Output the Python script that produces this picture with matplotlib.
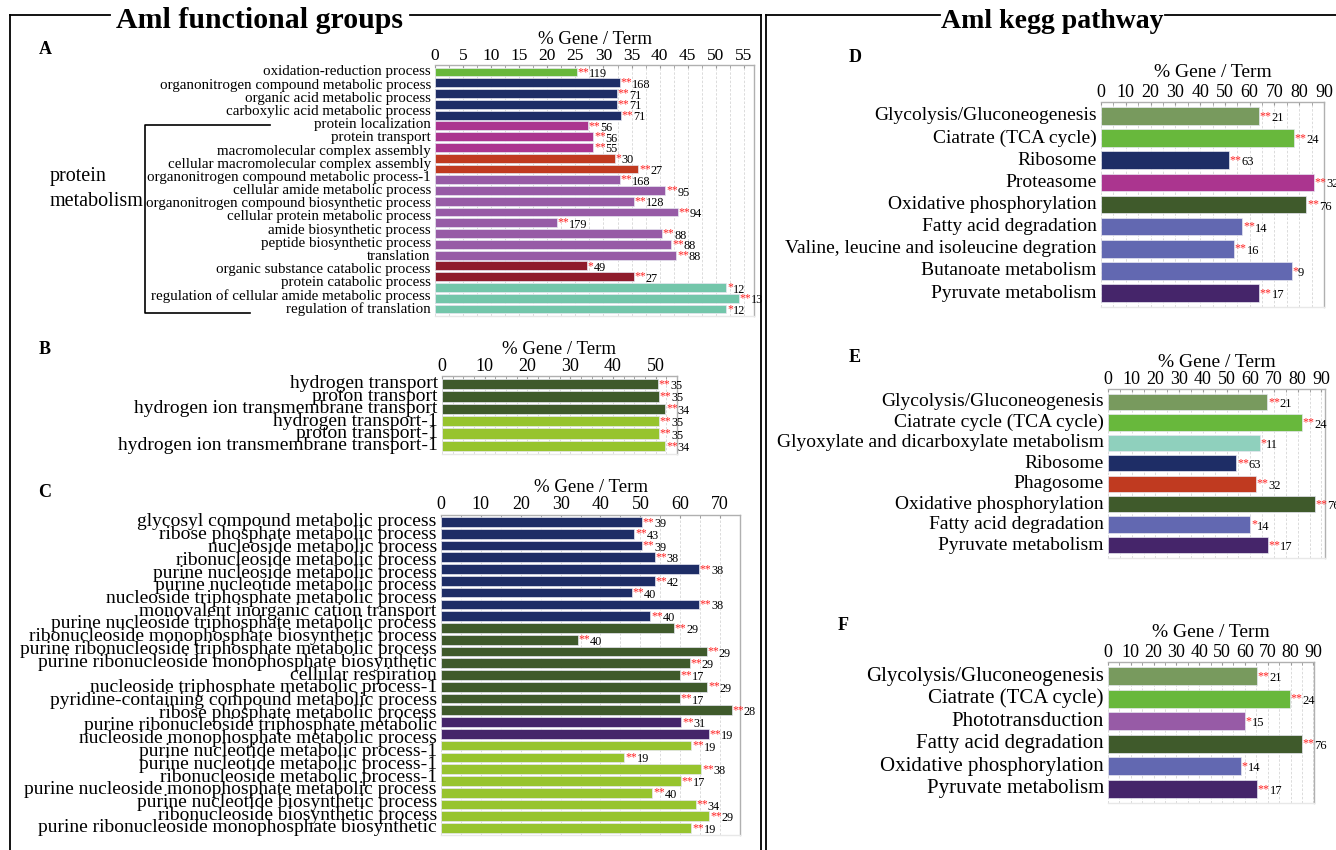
import matplotlib
matplotlib.use('Agg')
import matplotlib.pyplot as plt
from matplotlib.lines import Line2D
from matplotlib.ticker import MultipleLocator
import numpy as np

plt.rcParams['font.family'] = ['Liberation Serif', 'DejaVu Serif']

W, H = 1336, 850

# ---------------- data ----------------
# Panel A
a_labels = ["oxidation-reduction process", "organonitrogen compound metabolic process",
            "organic acid metabolic process", "carboxylic acid metabolic process",
            "protein localization", "protein transport", "macromolecular complex assembly",
            "cellular macromolecular complex assembly", "organonitrogen compound metabolic process-1",
            "cellular amide metabolic process", "organonitrogen compound biosynthetic process",
            "cellular protein metabolic process", "amide biosynthetic process",
            "peptide biosynthetic process", "translation", "organic substance catabolic process",
            "protein catabolic process", "regulation of cellular amide metabolic process",
            "regulation of translation"]
a_values = [25.3, 32.9, 32.4, 32.4, 33.1, 27.2, 28.2, 28.2, 32.0, 36.2, 32.9, 41.0, 35.4,
            43.2, 21.7, 40.4, 42.1, 43.0, 27.1, 35.4, 51.9, 54.1, 51.9]
a_counts = [119, 168, 71, 71, 71, 56, 56, 55, 30, 27, 168, 95, 128, 94, 179, 88, 88, 88,
            49, 27, 12, 13, 12]
a_stars = ['**', '**', '**', '**', '**', '**', '**', '**', '*', '**', '**', '**', '**', '**',
           '**', '**', '**', '**', '*', '**', '*', '**', '*']
a_groups = [1, 4, 3, 2, 8, 2, 3]

# Panel B
b_labels = ["hydrogen transport", "proton transport", "hydrogen ion transmembrane transport",
            "hydrogen transport-1", "proton transport-1", "hydrogen ion transmembrane transport-1"]
b_values = [50.6, 50.8, 52.3, 50.8, 50.8, 52.3]
b_counts = [35, 35, 34, 35, 35, 34]
b_stars = ['**'] * 6
b_groups = [3, 3]

# Panel C
c_labels = ["glycosyl compound metabolic process", "ribose phosphate metabolic process",
            "nucleoside metabolic process", "ribonucleoside metabolic process",
            "purine nucleoside metabolic process", "purine nucleotide metabolic process",
            "nucleoside triphosphate metabolic process", "monovalent inorganic cation transport",
            "purine nucleoside triphosphate metabolic process",
            "ribonucleoside monophosphate biosynthetic process",
            "purine ribonucleoside triphosphate metabolic process",
            "purine ribonucleoside monophosphate biosynthetic", "cellular respiration",
            "nucleoside triphosphate metabolic process-1",
            "pyridine-containing compound metabolic process", "ribose phosphate metabolic process",
            "purine ribonucleoside triphosphate metabolic",
            "nucleoside monophosphate metabolic process", "purine nucleotide metabolic process-1",
            "purine nucleotide metabolic process-1", "ribonucleoside metabolic process-1",
            "purine nucleoside monophosphate metabolic process",
            "purine nucleotide biosynthetic process", "ribonucleoside biosynthetic process",
            "purine ribonucleoside monophosphate biosynthetic"]
c_values = [50.4, 48.5, 50.4, 53.6, 64.7, 53.7, 47.9, 64.7, 52.5,
            58.4, 34.3, 66.6, 62.4, 60.0, 66.8, 60.0, 72.9,
            60.3, 67.1,
            62.8, 46.0, 65.3, 60.2, 53.0, 63.9, 67.3, 62.8]
c_counts = [39, 43, 39, 38, 38, 42, 40, 38, 40,
            29, 40, 29, 29, 17, 29, 17, 28,
            31, 19,
            19, 19, 38, 17, 40, 34, 29, 19]
c_stars = ['**'] * 27
c_groups = [9, 8, 2, 8]

# Panel D
d_labels = ["Glycolysis/Gluconeogenesis", "Ciatrate (TCA cycle)", "Ribosome", "Proteasome",
            "Oxidative phosphorylation", "Fatty acid degradation",
            "Valine, leucine and isoleucine degration", "Butanoate metabolism",
            "Pyruvate metabolism"]
d_values = [63.6, 77.7, 51.5, 85.9, 82.9, 57.1, 53.7, 76.9, 63.8]
d_counts = [21, 24, 63, 32, 76, 14, 16, 9, 17]
d_stars = ['**', '**', '**', '**', '**', '**', '**', '*', '**']

# Panel E
e_labels = ["Glycolysis/Gluconeogenesis", "Ciatrate cycle (TCA cycle)",
            "Glyoxylate and dicarboxylate metabolism", "Ribosome", "Phagosome",
            "Oxidative phosphorylation", "Fatty acid degradation", "Pyruvate metabolism"]
e_values = [67.2, 81.8, 63.9, 54.1, 62.2, 87.1, 60.0, 67.4]
e_counts = [21, 24, 11, 63, 32, 76, 14, 17]
e_stars = ['**', '**', '*', '**', '**', '**', '*', '**']

# Panel F
f_labels = ["Glycolysis/Gluconeogenesis", "Ciatrate (TCA cycle)", "Phototransduction",
            "Fatty acid degradation", "Oxidative phosphorylation", "Pyruvate metabolism"]
f_values = [65.1, 79.7, 60.0, 84.9, 58.4, 65.4]
f_counts = [21, 24, 15, 76, 14, 17]
f_stars = ['**', '**', '*', '**', '*', '**']

# ---------------- styles ----------------
GREEN = '#68b83c'
NAVY = '#1e2d66'
MAGENTA = '#ab358f'
RED = '#c03a20'
PURPLE = '#975ba6'
DARKRED = '#8f1c2c'
TEAL = '#73c6aa'
DKGREEN = '#3f5a2b'
LTGREEN = '#97c42e'
DKPURPLE = '#45256a'
GREYGREEN = '#789a5e'
PERI = '#6268b1'
LTTEAL = '#8fd0bd'

a_colors = [GREEN, NAVY, MAGENTA, RED, PURPLE, DARKRED, TEAL]
b_colors = [DKGREEN, LTGREEN]
c_colors = [NAVY, DKGREEN, DKPURPLE, LTGREEN]
d_colors = [GREYGREEN, GREEN, NAVY, MAGENTA, DKGREEN, PERI, PERI, PERI, DKPURPLE]
e_colors = [GREYGREEN, GREEN, LTTEAL, NAVY, RED, DKGREEN, PERI, DKPURPLE]
f_colors = [GREYGREEN, GREEN, PURPLE, DKGREEN, PERI, DKPURPLE]

fig = plt.figure(figsize=(W / 100, H / 100), dpi=100)


def expand(groups, colors):
    out = []
    for g, c in zip(groups, colors):
        out += [c] * g
    return out


def panel(x0, x1, ytop_c, ybot_c, labels, values, counts, stars, colors, xmax,
          major, minor, lab_fs, tick_fs, ann_fs, bar_h, title_fs=13, title_pad=2, labpad=3):
    n = len(values)
    s = (ybot_c - ytop_c) / (n - 1)
    m = 0.62
    top = ytop_c - m * s
    bot = ybot_c + m * s
    ax = fig.add_axes([x0 / W, 1 - bot / H, (x1 - x0) / W, (bot - top) / H])
    y = np.arange(n)
    ax.barh(y, values, height=bar_h, color=colors, edgecolor='#e6e6f0', linewidth=0.5, zorder=3)
    ax.set_ylim(n - 1 + m, -m)
    ax.set_xlim(0, xmax)
    ax.xaxis.tick_top()
    ax.xaxis.set_major_locator(MultipleLocator(major))
    ax.xaxis.set_minor_locator(MultipleLocator(minor))
    ax.tick_params(axis='x', which='both', direction='in', length=2.5, color='#999999',
                   labelsize=tick_fs, pad=1)
    ax.set_yticks([])
    ax.grid(axis='x', which='both', linestyle=(0, (3, 2)), color='#d6d6d6', linewidth=0.6, zorder=0)
    ax.spines['left'].set_visible(False)
    for sp in ['top', 'right', 'bottom']:
        ax.spines[sp].set_color('#b0b0b0')
        ax.spines[sp].set_linewidth(1.0)
    ax.spines['bottom'].set_color('#e8e8e8')
    ax.xaxis.set_label_position('top')
    ax.set_xlabel('% Gene / Term', fontsize=title_fs, labelpad=title_pad)
    # category labels
    ys = np.linspace(0, n - 1, len(labels))
    for yy, lab in zip(ys, labels):
        ax.annotate(lab, xy=(0, yy), xycoords=('axes fraction', 'data'), xytext=(-labpad, 0),
                    textcoords='offset points', ha='right', va='center', fontsize=lab_fs,
                    annotation_clip=False)
    # value annotations
    for i, (v, c, st) in enumerate(zip(values, counts, stars)):
        ax.annotate(st, xy=(v, i), xytext=(0.5, 0), textcoords='offset points',
                    color='#ff2020', fontsize=ann_fs * 0.95, ha='left', va='center',
                    annotation_clip=False, zorder=5)
        ax.annotate(str(c), xy=(v, i), xytext=(0.5 + len(st) * ann_fs * 0.47, -1.5),
                    textcoords='offset points', fontsize=ann_fs, ha='left', va='center',
                    annotation_clip=False, zorder=5)
    return ax


# Left side panels
panel(435, 754, 72, 309, a_labels, a_values, a_counts, a_stars,
      expand(a_groups, a_colors), 56.8, 5, 2.5, 10.8, 12.5, 8.8, 0.82, title_fs=13.5, title_pad=3)
panel(442, 677, 384, 446, b_labels, b_values, b_counts, b_stars,
      expand(b_groups, b_colors), 55, 10, 2.5, 14, 13, 8.8, 0.85, title_fs=13.5, title_pad=3)
panel(441, 740, 522, 828, c_labels, c_values, c_counts, c_stars,
      expand(c_groups, c_colors), 75, 10, 5, 14, 13, 8.8, 0.82, title_fs=13.5, title_pad=3)

# Right side panels
panel(1101, 1324, 116, 293, d_labels, d_values, d_counts, d_stars,
      d_colors, 90, 10, 5, 14, 13, 9, 0.8, title_fs=14, title_pad=5)
panel(1108, 1325, 402, 545, e_labels, e_values, e_counts, e_stars,
      e_colors, 91.5, 10, 5, 14, 13, 9, 0.8, title_fs=14, title_pad=3)
panel(1108, 1314, 676, 789, f_labels, f_values, f_counts, f_stars,
      f_colors, 90.3, 10, 5, 15, 13, 9, 0.8, title_fs=14, title_pad=5)


# ---------------- frames and decorations ----------------
def line(xs, ys, lw=1.3):
    fig.add_artist(Line2D([x / W for x in xs], [1 - y / H for y in ys], color='black',
                          linewidth=lw))


line([10, 110], [15, 15])
line([410, 761], [15, 15])
line([10, 10], [15, 850])
line([761, 761], [15, 850])
line([766, 940], [15, 15])
line([1165, 1336], [15, 15])
line([766, 766], [15, 850])

fig.text(260 / W, 1 - 21 / H, 'Aml functional groups', fontsize=21.5, fontweight='bold',
         ha='center', va='center')
fig.text(1052 / W, 1 - 21 / H, 'Aml kegg pathway', fontsize=20, fontweight='bold',
         ha='center', va='center')

for lab, x, y in [('A', 45, 50), ('B', 45, 350), ('C', 45, 493),
                  ('D', 855, 57), ('E', 855, 358), ('F', 843, 625)]:
    fig.text(x / W, 1 - y / H, lab, fontsize=13, fontweight='bold', ha='center', va='center')

# protein metabolism bracket
line([270, 145, 145, 250], [125, 125, 313, 313], lw=1.2)
fig.text(50 / W, 1 - 176 / H, 'protein', fontsize=14.5, ha='left', va='center')
fig.text(50 / W, 1 - 201 / H, 'metabolism', fontsize=14.5, ha='left', va='center')

fig.savefig('out.png', dpi=100)
